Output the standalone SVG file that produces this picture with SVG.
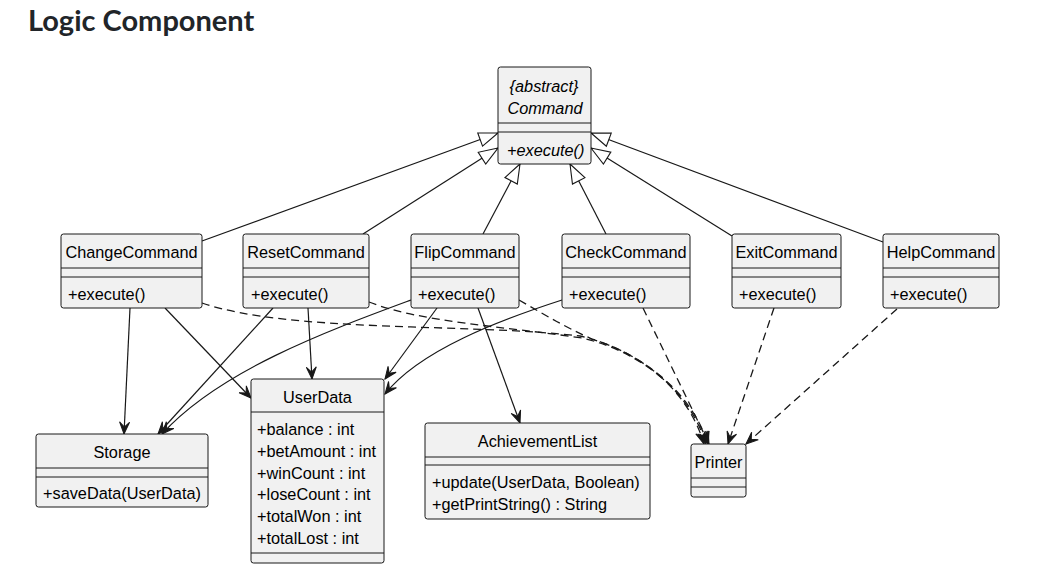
<svg xmlns="http://www.w3.org/2000/svg" width="1038" height="578" viewBox="0 0 1038 578">
<style>
.box{fill:#F1F1F1;stroke:#181818;stroke-width:1}
.sep{stroke:#181818;stroke-width:1}
.t{font-family:"Liberation Sans",Arial,sans-serif;font-size:16.3px;fill:#000}
.c{text-anchor:middle}
.i{font-style:italic}
.ln{fill:none;stroke:#181818;stroke-width:1.2}
.inh{marker-end:url(#tri)}
.dep{marker-end:url(#arr)}
.dash{stroke-dasharray:8,5;stroke-width:1.3}
.title{font-family:Lato,"Open Sans",sans-serif;font-weight:700;font-size:29px;fill:#212529}
</style>
<defs>
<marker id="tri" markerUnits="userSpaceOnUse" markerWidth="24" markerHeight="18" viewBox="-21 -9 22 18" refX="0" refY="0" orient="auto">
<path d="M0,0 L-19,-7 L-19,7 Z" fill="#FFFFFF" stroke="#181818" stroke-width="1.1"/>
</marker>
<marker id="arr" markerUnits="userSpaceOnUse" markerWidth="16" markerHeight="14" viewBox="-13 -7 14 14" refX="0" refY="0" orient="auto">
<path d="M0,0 L-12,-5 L-7,0 L-12,5 Z" fill="#181818" stroke="#181818" stroke-width="1"/>
</marker>
</defs>
<rect width="1038" height="578" fill="#FFFFFF"/>
<text class="title" x="28" y="31">Logic Component</text>

<g id="connectors">
<path class="ln inh" d="M202,241 L498,133"/>
<path class="ln inh" d="M363,234 L498,148"/>
<path class="ln inh" d="M483,234 L520,164"/>
<path class="ln inh" d="M606,234 L570,164"/>
<path class="ln inh" d="M732,236 L591,148"/>
<path class="ln inh" d="M883,242 L591,133"/>

<path class="ln dep" d="M130,308 L124,434"/>
<path class="ln dep" d="M165,308 L251,398"/>
<path class="ln dep" d="M273,308 L158,434"/>
<path class="ln dep" d="M308,308 L312,379"/>
<path class="ln dep" d="M411,300 C330,330 220,370 162,434"/>
<path class="ln dep" d="M437,308 L385,379"/>
<path class="ln dep" d="M478,308 L520,423"/>
<path class="ln dep" d="M562,300 C500,320 420,350 385,394"/>

<path class="ln dep dash" d="M202,303 C290,333 470,323 580,336 C640,350 688,390 704,444"/>
<path class="ln dep dash" d="M369,302 C420,322 500,326 582,338 C642,352 690,392 706,444"/>
<path class="ln dep dash" d="M519,300 C545,315 565,327 592,339 C646,356 692,394 708,444"/>
<path class="ln dep dash" d="M643,308 L709,444"/>
<path class="ln dep dash" d="M774,308 L728,444"/>
<path class="ln dep dash" d="M897,309 L746,444"/>
</g>

<g id="Command">
<rect class="box" x="498" y="67" width="93" height="97" rx="2.5"/>
<line class="sep" x1="498" y1="123" x2="591" y2="123"/>
<line class="sep" x1="498" y1="132" x2="591" y2="132"/>
<text class="t c i" x="544" y="92">{abstract}</text>
<text class="t c i" x="545" y="114">Command</text>
<text class="t i" x="507" y="156">+execute()</text>
</g>

<g id="ChangeCommand">
<rect class="box" x="61" y="234" width="141" height="74" rx="2.5"/>
<line class="sep" x1="61" y1="268" x2="202" y2="268"/>
<line class="sep" x1="61" y1="277" x2="202" y2="277"/>
<text class="t c" x="131.5" y="258">ChangeCommand</text>
<text class="t" x="68" y="300">+execute()</text>
</g>

<g id="ResetCommand">
<rect class="box" x="243" y="234" width="126" height="74" rx="2.5"/>
<line class="sep" x1="243" y1="268" x2="369" y2="268"/>
<line class="sep" x1="243" y1="277" x2="369" y2="277"/>
<text class="t c" x="306" y="258">ResetCommand</text>
<text class="t" x="251" y="300">+execute()</text>
</g>

<g id="FlipCommand">
<rect class="box" x="411" y="234" width="108" height="74" rx="2.5"/>
<line class="sep" x1="411" y1="268" x2="519" y2="268"/>
<line class="sep" x1="411" y1="277" x2="519" y2="277"/>
<text class="t c" x="465" y="258">FlipCommand</text>
<text class="t" x="418" y="300">+execute()</text>
</g>

<g id="CheckCommand">
<rect class="box" x="562" y="234" width="128" height="74" rx="2.5"/>
<line class="sep" x1="562" y1="268" x2="690" y2="268"/>
<line class="sep" x1="562" y1="277" x2="690" y2="277"/>
<text class="t c" x="626" y="258">CheckCommand</text>
<text class="t" x="569" y="300">+execute()</text>
</g>

<g id="ExitCommand">
<rect class="box" x="732" y="234" width="109" height="74" rx="2.5"/>
<line class="sep" x1="732" y1="268" x2="841" y2="268"/>
<line class="sep" x1="732" y1="277" x2="841" y2="277"/>
<text class="t c" x="786.5" y="258">ExitCommand</text>
<text class="t" x="739" y="300">+execute()</text>
</g>

<g id="HelpCommand">
<rect class="box" x="883" y="234" width="116" height="74" rx="2.5"/>
<line class="sep" x1="883" y1="268" x2="999" y2="268"/>
<line class="sep" x1="883" y1="277" x2="999" y2="277"/>
<text class="t c" x="941" y="258">HelpCommand</text>
<text class="t" x="890" y="300">+execute()</text>
</g>

<g id="Storage">
<rect class="box" x="36" y="434" width="172" height="73" rx="2.5"/>
<line class="sep" x1="36" y1="468" x2="208" y2="468"/>
<line class="sep" x1="36" y1="477" x2="208" y2="477"/>
<text class="t c" x="122" y="458">Storage</text>
<text class="t" x="43" y="499">+saveData(UserData)</text>
</g>

<g id="UserData">
<rect class="box" x="251" y="379" width="133" height="184" rx="2.5"/>
<line class="sep" x1="251" y1="412" x2="384" y2="412"/>
<line class="sep" x1="251" y1="553" x2="384" y2="553"/>
<text class="t c" x="317.5" y="403">UserData</text>
<text class="t" x="257" y="435">+balance : int</text>
<text class="t" x="257" y="457">+betAmount : int</text>
<text class="t" x="257" y="479">+winCount : int</text>
<text class="t" x="257" y="500">+loseCount : int</text>
<text class="t" x="257" y="522">+totalWon : int</text>
<text class="t" x="257" y="544">+totalLost : int</text>
</g>

<g id="AchievementList">
<rect class="box" x="425" y="423" width="225" height="96" rx="2.5"/>
<line class="sep" x1="425" y1="457" x2="650" y2="457"/>
<line class="sep" x1="425" y1="465" x2="650" y2="465"/>
<text class="t c" x="537.5" y="447">AchievementList</text>
<text class="t" x="432" y="488">+update(UserData, Boolean)</text>
<text class="t" x="432" y="510">+getPrintString() : String</text>
</g>

<g id="Printer">
<rect class="box" x="691" y="444" width="55" height="53" rx="2.5"/>
<line class="sep" x1="691" y1="478" x2="746" y2="478"/>
<line class="sep" x1="691" y1="487" x2="746" y2="487"/>
<text class="t c" x="718.5" y="468">Printer</text>
</g>
</svg>
